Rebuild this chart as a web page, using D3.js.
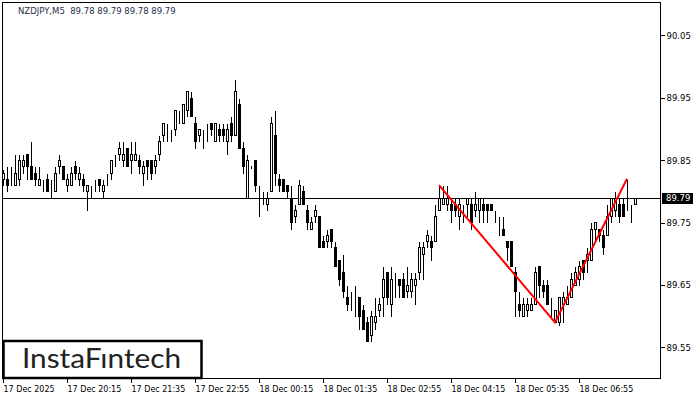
<!DOCTYPE html>
<html lang="en">
<head>
<meta charset="UTF-8">
<title>NZDJPY M5</title>
<script src="https://d3js.org/d3.v7.min.js"></script>
<style>
  body { margin: 0; background: #fff; }
  svg { display: block; }
  .ax text { font-family: 'DejaVu Sans', sans-serif; font-size: 8.5px; fill: #000; }
</style>
</head>
<body>
<svg id="chart" width="700" height="400"></svg>
<script>
// time labels every 16 bars (5 min bars)
const timeIdx = [0, 16, 32, 48, 64, 80, 96, 112, 128, 144];
const timeLabels = ["17 Dec 2025", "17 Dec 20:15", "17 Dec 21:35", "17 Dec 22:55", "18 Dec 00:15",
  "18 Dec 01:35", "18 Dec 02:55", "18 Dec 04:15", "18 Dec 05:35", "18 Dec 06:55"];
const priceTicks = [90.05, 89.95, 89.85, 89.75, 89.65, 89.55];
const lastPrice = 89.79;

const opens = [
  89.82, 89.82, 89.82, 89.81, 89.82, 89.84, 89.86, 89.84, 89.83, 89.81,
  89.81, 89.82, 89.81, 89.80, 89.84, 89.84, 89.81, 89.81, 89.84, 89.82,
  89.82, 89.80, 89.80, 89.81, 89.82, 89.80, 89.82, 89.83, 89.85, 89.86,
  89.85, 89.87, 89.85, 89.85, 89.85, 89.83, 89.85, 89.85, 89.84, 89.86,
  89.89, 89.90, 89.89, 89.90, 89.92, 89.91, 89.93, 89.95, 89.91, 89.89,
  89.89, 89.90, 89.91, 89.88, 89.90, 89.90, 89.88, 89.91, 89.89, 89.94,
  89.87, 89.79, 89.84, 89.85, 89.80, 89.79, 89.78, 89.80, 89.89, 89.82,
  89.82, 89.81, 89.79, 89.76, 89.78, 89.80, 89.77, 89.74, 89.76, 89.76,
  89.72, 89.72, 89.74, 89.71, 89.69, 89.67, 89.63, 89.63, 89.62, 89.63,
  89.61, 89.59, 89.57, 89.59, 89.61, 89.63, 89.67, 89.62, 89.65, 89.66,
  89.66, 89.64, 89.64, 89.65, 89.67, 89.70, 89.72, 89.72, 89.72, 89.77,
  89.78, 89.78, 89.78, 89.78, 89.76, 89.77, 89.78, 89.78, 89.77, 89.77,
  89.78, 89.78, 89.78, 89.76, 89.75, 89.74, 89.72, 89.72, 89.67, 89.62,
  89.60, 89.61, 89.61, 89.62, 89.68, 89.65, 89.65, 89.61, 89.59, 89.59,
  89.62, 89.62, 89.63, 89.65, 89.66, 89.69, 89.69, 89.69, 89.74, 89.74,
  89.73, 89.73, 89.76, 89.77, 89.78, 89.78, 89.78, 89.77, 89.78
];
const highs = [
  89.835, 89.84, 89.84, 89.86, 89.86, 89.86, 89.86, 89.88, 89.84, 89.84,
  89.82, 89.83, 89.82, 89.84, 89.86, 89.84, 89.83, 89.84, 89.85, 89.84,
  89.83, 89.81, 89.81, 89.82, 89.82, 89.82, 89.83, 89.85, 89.86, 89.88,
  89.88, 89.87, 89.88, 89.88, 89.86, 89.85, 89.85, 89.85, 89.86, 89.89,
  89.91, 89.91, 89.90, 89.93, 89.93, 89.94, 89.96, 89.96, 89.92, 89.90,
  89.90, 89.91, 89.91, 89.91, 89.91, 89.91, 89.91, 89.92, 89.98, 89.95,
  89.88, 89.86, 89.842, 89.85, 89.81, 89.80, 89.80, 89.92, 89.93, 89.83,
  89.82, 89.81, 89.81, 89.78, 89.82, 89.81, 89.78, 89.76, 89.78, 89.76,
  89.73, 89.74, 89.74, 89.72, 89.69, 89.70, 89.65, 89.64, 89.65, 89.63,
  89.62, 89.60, 89.61, 89.63, 89.63, 89.68, 89.67, 89.68, 89.67, 89.66,
  89.67, 89.68, 89.67, 89.67, 89.72, 89.72, 89.74, 89.73, 89.78, 89.81,
  89.81, 89.81, 89.79, 89.79, 89.79, 89.78, 89.79, 89.79, 89.80, 89.79,
  89.79, 89.78, 89.78, 89.77, 89.76, 89.76, 89.72, 89.72, 89.68, 89.64,
  89.63, 89.63, 89.63, 89.68, 89.68, 89.66, 89.66, 89.63, 89.61, 89.63,
  89.64, 89.65, 89.67, 89.68, 89.69, 89.69, 89.71, 89.75, 89.75, 89.74,
  89.74, 89.78, 89.79, 89.80, 89.79, 89.79, 89.82, 89.78, 89.79
];
const lows = [
  89.81, 89.80, 89.81, 89.81, 89.81, 89.83, 89.82, 89.82, 89.81, 89.81,
  89.80, 89.80, 89.79, 89.80, 89.83, 89.82, 89.80, 89.81, 89.82, 89.81,
  89.80, 89.77, 89.79, 89.80, 89.80, 89.79, 89.81, 89.82, 89.84, 89.85,
  89.84, 89.84, 89.83, 89.85, 89.83, 89.81, 89.82, 89.82, 89.83, 89.85,
  89.88, 89.88, 89.88, 89.89, 89.91, 89.91, 89.92, 89.92, 89.87, 89.88,
  89.87, 89.88, 89.89, 89.88, 89.88, 89.88, 89.86, 89.88, 89.89, 89.87,
  89.83, 89.79, 89.838, 89.80, 89.76, 89.78, 89.77, 89.80, 89.81, 89.80,
  89.80, 89.79, 89.74, 89.75, 89.78, 89.78, 89.74, 89.74, 89.75, 89.71,
  89.71, 89.71, 89.71, 89.68, 89.65, 89.63, 89.61, 89.61, 89.60, 89.58,
  89.58, 89.56, 89.56, 89.58, 89.60, 89.60, 89.62, 89.60, 89.63, 89.63,
  89.63, 89.63, 89.63, 89.62, 89.66, 89.66, 89.71, 89.69, 89.72, 89.77,
  89.78, 89.77, 89.75, 89.76, 89.74, 89.75, 89.76, 89.74, 89.76, 89.75,
  89.75, 89.75, 89.77, 89.75, 89.73, 89.73, 89.69, 89.68, 89.60, 89.60,
  89.60, 89.60, 89.61, 89.62, 89.63, 89.63, 89.62, 89.60, 89.59, 89.585,
  89.59, 89.62, 89.63, 89.65, 89.65, 89.66, 89.67, 89.69, 89.72, 89.72,
  89.70, 89.73, 89.75, 89.76, 89.75, 89.76, 89.77, 89.75, 89.78
];
const closes = [
  89.83, 89.81, 89.82, 89.83, 89.85, 89.85, 89.84, 89.82, 89.82, 89.82,
  89.81, 89.80, 89.81, 89.83, 89.85, 89.82, 89.82, 89.83, 89.83, 89.83,
  89.81, 89.81, 89.80, 89.81, 89.81, 89.81, 89.82, 89.85, 89.85, 89.87,
  89.86, 89.84, 89.86, 89.86, 89.84, 89.84, 89.84, 89.83, 89.85, 89.88,
  89.91, 89.90, 89.89, 89.93, 89.92, 89.94, 89.96, 89.92, 89.88, 89.90,
  89.89, 89.90, 89.90, 89.91, 89.89, 89.89, 89.90, 89.89, 89.96, 89.87,
  89.84, 89.85, 89.84, 89.81, 89.80, 89.79, 89.79, 89.91, 89.83, 89.81,
  89.80, 89.80, 89.75, 89.77, 89.81, 89.78, 89.75, 89.75, 89.77, 89.71,
  89.71, 89.73, 89.72, 89.68, 89.66, 89.64, 89.62, 89.63, 89.62, 89.60,
  89.58, 89.56, 89.60, 89.60, 89.62, 89.66, 89.63, 89.66, 89.65, 89.65,
  89.63, 89.65, 89.66, 89.66, 89.71, 89.71, 89.73, 89.71, 89.76, 89.79,
  89.79, 89.79, 89.77, 89.77, 89.78, 89.77, 89.79, 89.75, 89.78, 89.79,
  89.77, 89.77, 89.77, 89.76, 89.75, 89.73, 89.71, 89.68, 89.64, 89.61,
  89.62, 89.62, 89.62, 89.67, 89.65, 89.64, 89.62, 89.61, 89.61, 89.63,
  89.63, 89.63, 89.66, 89.67, 89.68, 89.67, 89.70, 89.74, 89.75, 89.73,
  89.71, 89.76, 89.79, 89.79, 89.76, 89.76, 89.78, 89.77, 89.79
];

// double bottom pattern drawn in red (bar index, price)
const patternIdx = [109, 138, 156];
const patternPrice = [89.81, 89.59, 89.82];

const bars = opens.map((o, i) => ({ i, o, h: highs[i], l: lows[i], c: closes[i] }));

const svg = d3.select("#chart");
const plotLeft = 2, plotRight = 660, plotTop = 2, plotBottom = 378;

const x = d3.scaleLinear().domain([0, 158]).range([3, 635]);
const y = d3.scaleLinear().domain([89.55, 90.05]).range([347.3, 35.3]);
const px = v => Math.round(x(v)) + 0.5;
const py = v => Math.round(y(v)) + 0.5;

// title
svg.append("text")
  .attr("x", 18).attr("y", 14)
  .style("font-family", "'DejaVu Sans', sans-serif")
  .style("font-size", "8.5px")
  .style("fill", "#1f2d4d")
  .style("white-space", "pre")
  .text("NZDJPY,M5  89.78 89.79 89.78 89.79");

// last price line
svg.append("line")
  .attr("x1", plotLeft).attr("x2", plotRight)
  .attr("y1", py(lastPrice)).attr("y2", py(lastPrice))
  .attr("stroke", "#000").attr("stroke-width", 1);

// candles
const g = svg.append("g").attr("shape-rendering", "crispEdges");
const bar = g.selectAll("g").data(bars).join("g");
bar.append("line")
  .attr("x1", d => px(d.i)).attr("x2", d => px(d.i))
  .attr("y1", d => py(d.h)).attr("y2", d => py(d.l) + 0.5)
  .attr("stroke", "#000").attr("stroke-width", 1);
bar.append("rect")
  .attr("x", d => px(d.i) - 1)
  .attr("width", 2)
  .attr("y", d => py(Math.max(d.o, d.c)))
  .attr("height", d => py(Math.min(d.o, d.c)) - py(Math.max(d.o, d.c)))
  .attr("fill", d => d.c < d.o ? "#000" : "#fff")
  .attr("stroke", "#000").attr("stroke-width", 1);

// pattern lines
svg.append("path")
  .datum(patternIdx.map((d, k) => [d, patternPrice[k]]))
  .attr("fill", "none")
  .attr("stroke", "#ff0000")
  .attr("stroke-width", 2)
  .attr("d", d3.line().x(d => x(d[0])).y(d => y(d[1])));

// frame
svg.append("rect")
  .attr("x", plotLeft + 0.5).attr("y", plotTop + 0.5)
  .attr("width", plotRight - plotLeft).attr("height", plotBottom - plotTop)
  .attr("fill", "none").attr("stroke", "#000").attr("stroke-width", 1);

// price axis
const yAxis = svg.append("g").attr("class", "ax")
  .attr("transform", `translate(${plotRight + 0.5},0)`)
  .call(d3.axisRight(y).tickValues(priceTicks).tickSize(4).tickFormat(d3.format(".2f")));
yAxis.select(".domain").remove();
yAxis.selectAll(".tick line").attr("stroke", "#000").attr("shape-rendering", "crispEdges");
yAxis.selectAll(".tick text").attr("x", 6).attr("dy", "0.35em");

// last price marker
const lp = svg.append("g").attr("transform", `translate(0,${py(lastPrice)})`);
lp.append("rect").attr("x", 662).attr("y", -5.5).attr("width", 31).attr("height", 11).attr("fill", "#000");
lp.append("text").attr("x", 666).attr("dy", "0.35em")
  .style("font-family", "'DejaVu Sans', sans-serif").style("font-size", "8.5px")
  .style("fill", "#fff").text(d3.format(".2f")(lastPrice));

// time axis
const xAxis = svg.append("g").attr("class", "ax")
  .attr("transform", `translate(0,${plotBottom + 0.5})`)
  .call(d3.axisBottom(x).tickValues(timeIdx).tickSize(4).tickFormat((d, k) => timeLabels[k]));
xAxis.select(".domain").remove();
xAxis.selectAll(".tick line").attr("stroke", "#000").attr("shape-rendering", "crispEdges");
xAxis.selectAll(".tick text").attr("text-anchor", "start").attr("x", 0).attr("y", 13).attr("dy", 0)
  .style("font-size", "8px");

// logo
const logo = svg.append("g");
logo.append("rect")
  .attr("x", 3.5).attr("y", 341).attr("width", 198).attr("height", 37)
  .attr("fill", "#fff").attr("stroke", "#000").attr("stroke-width", 2.5);
logo.append("text")
  .attr("x", 22).attr("y", 368)
  .attr("textLength", 159).attr("lengthAdjust", "spacingAndGlyphs")
  .style("font-family", "Lato, 'Open Sans', sans-serif")
  .style("font-size", "26px").style("font-weight", 400)
  .style("fill", "#222")
  .text("InstaFıntech");
</script>
</body>
</html>
